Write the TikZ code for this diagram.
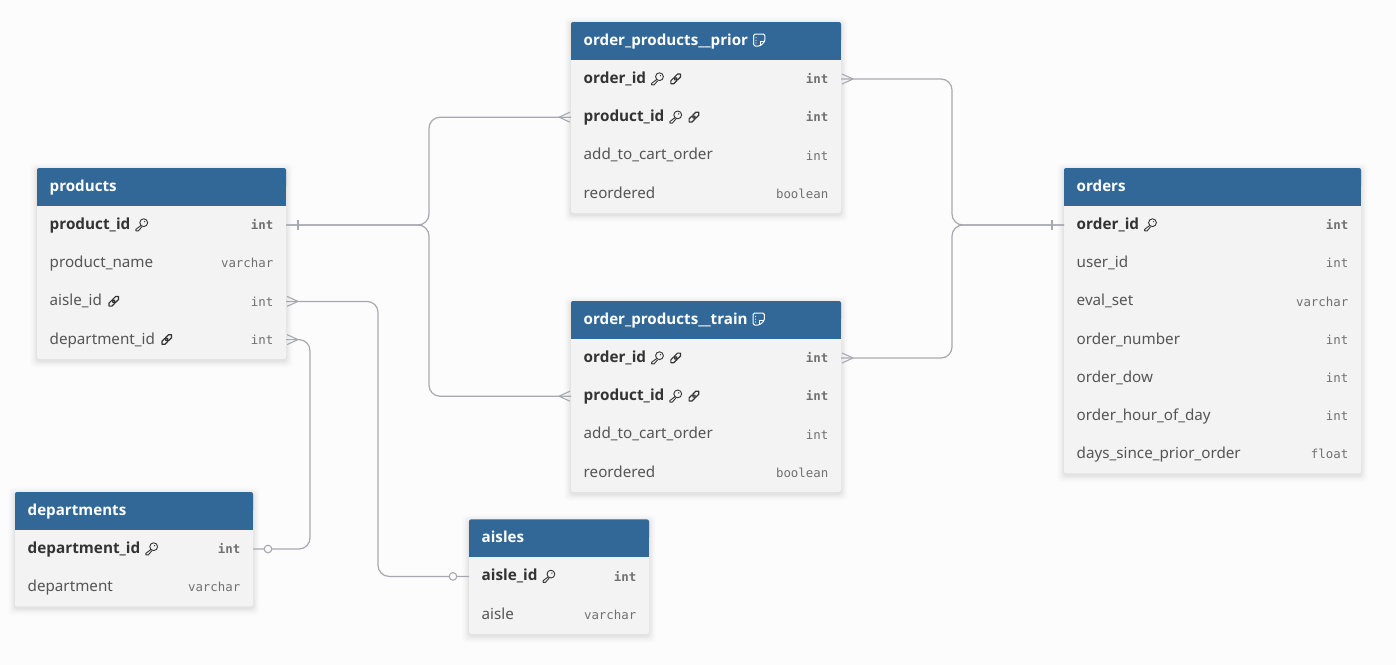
\documentclass[tikz,border=0pt]{standalone}
\usepackage{fontspec}
\setmainfont{Noto Sans}
\newfontfamily\boldfam{Open Sans}
\newfontfamily\typefont{DejaVu Sans Mono}
\definecolor{bgc}{HTML}{FCFCFC}
\definecolor{headc}{HTML}{326897}
\definecolor{bodyc}{HTML}{F3F3F3}
\definecolor{linec}{HTML}{A8A8B0}
\definecolor{boldc}{HTML}{333333}
\definecolor{regc}{HTML}{555555}
\definecolor{typec}{HTML}{707070}
\newcommand{\keyicon}[1][boldc]{\tikz[baseline=-4.5pt,x=1pt,y=1pt]{%
  \draw[#1,line width=.9pt,line join=round] (2.2,2.2) circle (3.9);
  \draw[#1,line width=.9pt,line join=round] (-.6,-.6) -- (-5.6,-4.4) -- (-5.6,-6) -- (-3.2,-6) -- (.4,-1.8);
  \fill[#1] (3.2,3.2) circle (.7);}}
\newcommand{\linkicon}{\tikz[baseline=-4.5pt,x=1pt,y=1pt]{%
  \draw[boldc,line width=1.2pt,rotate=45,rounded corners=1.9pt] (-1.2,-2.1) rectangle (6.6,2.1);
  \draw[boldc,line width=1.2pt,rotate=45,rounded corners=1.9pt] (-6.6,-2.1) rectangle (1.2,2.1);}}
\newcommand{\noteicon}{\tikz[baseline=-5pt,x=1pt,y=1pt]{%
  \draw[white,line width=1pt,line join=round,rounded corners=1.5pt] (-5.6,6) -- (5.6,6) -- (5.6,-1.5) -- (0.8,-6) -- (-5.6,-6) -- cycle;
  \draw[white,line width=.8pt] (0.8,-6) -- (0.8,-1.5) -- (5.6,-1.5);
  \fill[white] (-3.2,2.6) circle (.6) (-3.2,-.2) circle (.6) (-3.2,-3) circle (.6);}}
\tikzset{
  colname/.style={anchor=base west,inner sep=0pt,font=\fontsize{15.2}{17}\selectfont,text=regc},
  colnameb/.style={colname,font=\fontsize{15.3}{17}\boldfam\bfseries,text=boldc},
  coltype/.style={anchor=base east,inner sep=0pt,font=\fontsize{12.4}{14}\typefont,text=typec},
  coltypeb/.style={coltype,font=\fontsize{12.4}{14}\typefont\bfseries},
  tabletitle/.style={anchor=base west,inner sep=0pt,text=white,font=\fontsize{15.15}{17}\boldfam\bfseries},
  rowbox/.style={draw=none,inner sep=0pt,outer sep=0pt,minimum height=38pt},
  rel/.style={draw=linec,line width=1.2pt,rounded corners=11pt},
  tick/.style={draw=linec,line width=1.1pt},
  opt/.style={draw=linec,line width=1.1pt,fill=bgc},
}
% id, x, y-top, width, number of rows, title (with icon)
\newcommand{\dbtable}[6]{%
  \pgfmathsetmacro{\tb}{#3+38+38.2*#5}
  \foreach \sh/\op in {7/.006,6/.008,5/.010,4/.012,3/.015,2/.018,1/.022}{
    \fill[black,opacity=\op,rounded corners=4pt] (#2-\sh,#3-\sh+2) rectangle (#2+#4+\sh,\tb+\sh+2);}
  \fill[bodyc,rounded corners=2pt] (#2,#3+30) rectangle (#2+#4,\tb);
  \fill[headc,rounded corners=2pt] (#2,#3) rectangle (#2+#4,#3+20);
  \fill[headc] (#2,#3+10) rectangle (#2+#4,#3+38);
  \node[tabletitle] (#1-title) at (#2+12.5,#3+23) {#6};
}
\newcommand{\dbrow}[5]{% id, row index, x, y-top, width
  \node[rowbox,minimum width=#5 pt,anchor=north west] (#1-#2) at (#3,#4+38+38.2*#2-38.2) {};
}
\newcommand{\rowtext}[5]{% id-row, name, type, namestyle, typestyle
  \node[#4] (#1-n) at ([xshift=12.5pt,yshift=-4.4pt]#1.west) {#2};
  \node[#5] (#1-t) at ([xshift=-12.5pt,yshift=-4.6pt]#1.east) {#3};
}
\begin{document}
\begin{tikzpicture}[x=1pt,y=-1pt]
\useasboundingbox (0,0) rectangle (1396,665);
\fill[bgc] (0,0) rectangle (1396,665);

% tables
\dbtable{products}{37}{168}{249}{4}{products}
\dbtable{prior}{571}{22}{270}{4}{order\_products\_\_prior\,\,\noteicon}
\dbtable{train}{571}{301}{270}{4}{order\_products\_\_train\,\,\noteicon}
\dbtable{orders}{1064}{168}{297}{7}{orders}
\dbtable{departments}{15}{492}{238}{2}{departments}
\dbtable{aisles}{469}{519.4}{180}{2}{aisles}

\foreach \i in {1,...,4}{\dbrow{products}{\i}{37}{168}{249}}
\foreach \i in {1,...,4}{\dbrow{prior}{\i}{571}{22}{270}}
\foreach \i in {1,...,4}{\dbrow{train}{\i}{571}{301}{270}}
\foreach \i in {1,...,7}{\dbrow{orders}{\i}{1064}{168}{297}}
\foreach \i in {1,2}{\dbrow{departments}{\i}{15}{492}{238}}
\foreach \i in {1,2}{\dbrow{aisles}{\i}{469}{519.4}{180}}

\rowtext{products-1}{product\_id\,\,\keyicon}{int}{colnameb}{coltypeb}
\rowtext{products-2}{product\_name}{varchar}{colname}{coltype}
\rowtext{products-3}{aisle\_id\,\,\linkicon}{int}{colname}{coltype}
\rowtext{products-4}{department\_id\,\,\linkicon}{int}{colname}{coltype}

\rowtext{prior-1}{order\_id\,\,\keyicon\,\,\linkicon}{int}{colnameb}{coltypeb}
\rowtext{prior-2}{product\_id\,\,\keyicon\,\,\linkicon}{int}{colnameb}{coltypeb}
\rowtext{prior-3}{add\_to\_cart\_order}{int}{colname}{coltype}
\rowtext{prior-4}{reordered}{boolean}{colname}{coltype}

\rowtext{train-1}{order\_id\,\,\keyicon\,\,\linkicon}{int}{colnameb}{coltypeb}
\rowtext{train-2}{product\_id\,\,\keyicon\,\,\linkicon}{int}{colnameb}{coltypeb}
\rowtext{train-3}{add\_to\_cart\_order}{int}{colname}{coltype}
\rowtext{train-4}{reordered}{boolean}{colname}{coltype}

\rowtext{orders-1}{order\_id\,\,\keyicon}{int}{colnameb}{coltypeb}
\rowtext{orders-2}{user\_id}{int}{colname}{coltype}
\rowtext{orders-3}{eval\_set}{varchar}{colname}{coltype}
\rowtext{orders-4}{order\_number}{int}{colname}{coltype}
\rowtext{orders-5}{order\_dow}{int}{colname}{coltype}
\rowtext{orders-6}{order\_hour\_of\_day}{int}{colname}{coltype}
\rowtext{orders-7}{days\_since\_prior\_order}{float}{colname}{coltype}

\rowtext{departments-1}{department\_id\,\,\keyicon}{int}{colnameb}{coltypeb}
\rowtext{departments-2}{department}{varchar}{colname}{coltype}

\rowtext{aisles-1}{aisle\_id\,\,\keyicon}{int}{colnameb}{coltypeb}
\rowtext{aisles-2}{aisle}{varchar}{colname}{coltype}

% channels
\coordinate (chA) at (429,0);
\coordinate (chB) at (952,0);
\coordinate (chC) at (378,0);
\coordinate (chD) at (310,0);

% connectors
\draw[rel] (products-1.east) -- (products-1.east -| chA) -- (chA |- prior-2.west) -- (prior-2.west);
\draw[rel] (products-1.east) -- (products-1.east -| chA) -- (chA |- train-2.west) -- (train-2.west);
\draw[rel] (prior-1.east) -- (prior-1.east -| chB) -- (chB |- orders-1.west) -- (orders-1.west);
\draw[rel] (train-1.east) -- (train-1.east -| chB) -- (chB |- orders-1.west) -- (orders-1.west);
\draw[rel] (products-3.east) -- (products-3.east -| chC) -- (chC |- aisles-1.west) -- (aisles-1.west);
\draw[rel] (products-4.east) -- (products-4.east -| chD) -- (chD |- departments-1.east) -- (departments-1.east);

% one-side ticks
\draw[tick] ([xshift=12pt,yshift=5pt]products-1.east) -- ([xshift=12pt,yshift=-5pt]products-1.east);
\draw[tick] ([xshift=-12pt,yshift=5pt]orders-1.west) -- ([xshift=-12pt,yshift=-5pt]orders-1.west);

% crow's feet
\foreach \r in {products-3,products-4,prior-1,train-1}{
  \draw[tick,line join=round] ([xshift=1pt,yshift=5pt]\r.east) -- ([xshift=12pt]\r.east) -- ([xshift=1pt,yshift=-5pt]\r.east);}
\foreach \r in {prior-2,train-2}{
  \draw[tick,line join=round] ([xshift=-1pt,yshift=5pt]\r.west) -- ([xshift=-12pt]\r.west) -- ([xshift=-1pt,yshift=-5pt]\r.west);}

% optional circles
\draw[opt] ([xshift=15pt]departments-1.east) circle (3.8);
\draw[opt] ([xshift=-16pt]aisles-1.west) circle (3.8);
\end{tikzpicture}
\end{document}
